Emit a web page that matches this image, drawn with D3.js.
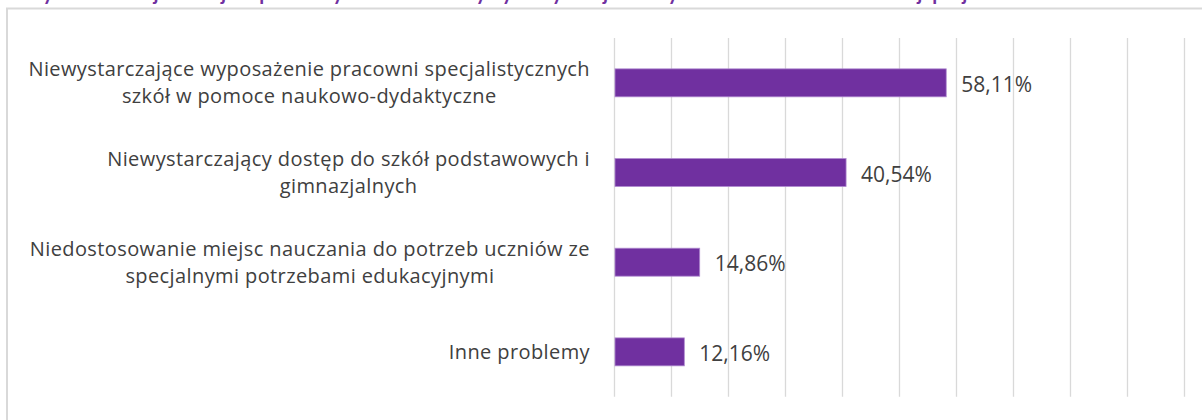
<!DOCTYPE html>
<html><head><meta charset="utf-8">
<script src="https://cdn.jsdelivr.net/npm/d3@7"></script>
<style>
html,body{margin:0;padding:0;background:#fff;}
svg{display:block;}
</style></head>
<body>
<svg id="chart" width="1202" height="420"></svg>
<script>
const categories = [
  ["Niewystarczające wyposażenie pracowni specjalistycznych", "szkół w pomoce naukowo-dydaktyczne"],
  ["Niewystarczający dostęp do szkół podstawowych i", "gimnazjalnych"],
  ["Niedostosowanie miejsc nauczania do potrzeb uczniów ze", "specjalnymi potrzebami edukacyjnymi"],
  ["Inne problemy"]
];
const values = [0.5811, 0.4054, 0.1486, 0.1216];
const xTicks = [0, 0.1, 0.2, 0.3, 0.4, 0.5, 0.6, 0.7, 0.8, 0.9, 1.0];
const titleText = "Wykres 11. Najważniejsze problemy w zakresie bazy dydaktycznej zidentyfikowane w trakcie realizacji projektu w szkołach";

const svg = d3.select("#chart");
const W = 1202, H = 420;
const plot = {left: 614, right: 1184, top: 38, bottom: 396.7};
const labelRight = 590;
const textColor = "#404040";
const purple = "#7030a0";
const fontFamily = "'Open Sans', 'Noto Sans', sans-serif";

const locale = d3.formatLocale({decimal: ",", thousands: " ", grouping: [3], currency: ["", " zł"], percent: "%"});
const fmt = locale.format(".2%");

// frame
svg.append("rect")
  .attr("x", 7).attr("y", 8.5).attr("width", W + 20).attr("height", H + 20)
  .attr("fill", "#fff").attr("stroke", "#d9d9d9").attr("stroke-width", 2);

// title (cut off by the top edge, as in the source)
svg.append("text")
  .attr("x", 22).attr("y", 0)
  .attr("font-family", "Lato, sans-serif").attr("font-weight", "bold")
  .attr("font-size", 20).attr("fill", purple)
  .text(titleText);

const x = d3.scaleLinear().domain([0, 1]).range([plot.left, plot.right]);
const y = d3.scaleBand().domain(d3.range(values.length))
  .range([plot.top, plot.bottom]).paddingInner(0.688).paddingOuter(0.344);

// gridlines via axis
const grid = svg.append("g")
  .attr("transform", `translate(0,${plot.bottom})`)
  .call(d3.axisBottom(x).tickValues(xTicks).tickSize(-(plot.bottom - plot.top)).tickFormat(""));
grid.select(".domain").remove();
grid.selectAll(".tick line").attr("stroke", "#d9d9d9").attr("stroke-width", 1.3);

// bars
svg.append("g").selectAll("rect").data(values).join("rect")
  .attr("x", x(0) + 1)
  .attr("y", (d, i) => y(i))
  .attr("width", d => x(d) - x(0))
  .attr("height", y.bandwidth())
  .attr("fill", purple)
  .attr("stroke", "#b08ad0").attr("stroke-width", 0.8);

// value labels
svg.append("g").selectAll("text").data(values).join("text")
  .attr("x", d => x(d) + 16)
  .attr("y", (d, i) => y(i) + y.bandwidth() / 2 + 9)
  .attr("font-family", fontFamily).attr("font-size", 21)
  .attr("fill", textColor)
  .text(d => fmt(d));

// category labels
const lineH = 27.3;
const catG = svg.append("g");
categories.forEach((lines, i) => {
  const cy = y(i) + y.bandwidth() / 2;
  const t = catG.append("text")
    .attr("font-family", fontFamily).attr("font-size", 20)
    .attr("letter-spacing", 0.4)
    .attr("fill", textColor).attr("text-anchor", "middle");
  const n = lines.length;
  const spans = lines.map((s, k) => t.append("tspan")
    .attr("y", cy + 7 + (k - (n - 1) / 2) * lineH)
    .text(s));
  const maxW = d3.max(spans, sp => sp.node().getComputedTextLength());
  spans.forEach(sp => sp.attr("x", labelRight - maxW / 2));
});
</script>
</body></html>
